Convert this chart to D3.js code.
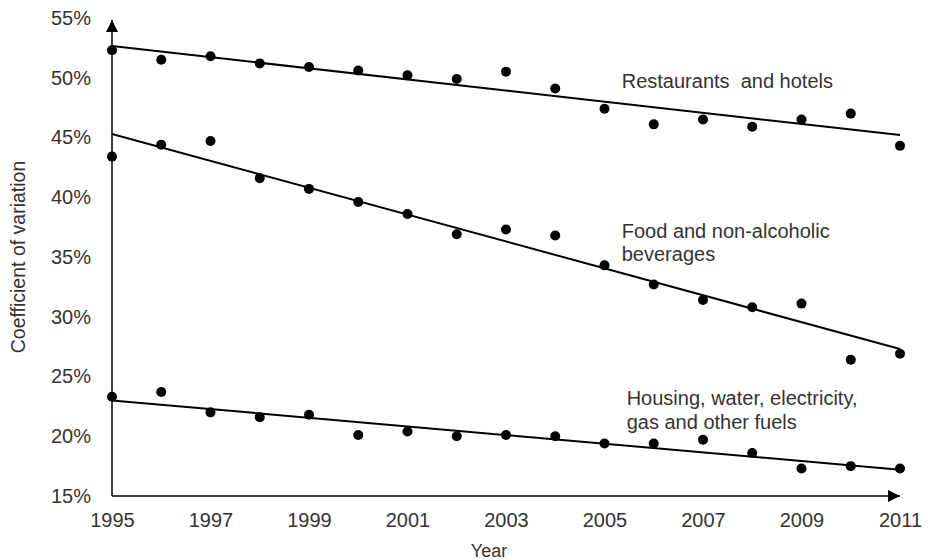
<!DOCTYPE html>
<html>
<head>
<meta charset="utf-8">
<script src="https://cdn.jsdelivr.net/npm/d3@7"></script>
<style>
  body { margin: 0; background: #fff; }
  svg { font-family: "Liberation Sans", Arial, sans-serif; }
</style>
</head>
<body>
<svg id="chart" width="930" height="560"></svg>
<script>
// Years and coefficient of variation (%) per category
const years = [1995, 1996, 1997, 1998, 1999, 2000, 2001, 2002, 2003,
               2004, 2005, 2006, 2007, 2008, 2009, 2010, 2011];
const restaurants = [52.3, 51.5, 51.8, 51.2, 50.9, 50.6, 50.2, 49.9, 50.5,
                     49.1, 47.4, 46.1, 46.5, 45.9, 46.5, 47.0, 44.3];
const food = [43.4, 44.4, 44.7, 41.6, 40.7, 39.6, 38.6, 36.9, 37.3,
              36.8, 34.3, 32.7, 31.4, 30.8, 31.1, 26.4, 26.9];
const housing = [23.3, 23.7, 22.0, 21.6, 21.8, 20.1, 20.4, 20.0, 20.1,
                 20.0, 19.4, 19.4, 19.7, 18.6, 17.3, 17.5, 17.3];

// Linear trend lines: value at first and last year
const trendYears = [1995, 2011];
const restaurantsTrend = [52.65, 45.2];
const foodTrend = [45.3, 27.3];
const housingTrend = [23.0, 17.2];

const yTicks = [15, 20, 25, 30, 35, 40, 45, 50, 55];
const xTicks = [1995, 1997, 1999, 2001, 2003, 2005, 2007, 2009, 2011];

const series = [
  { values: restaurants, trend: restaurantsTrend, label: ['Restaurants  and hotels'] },
  { values: food, trend: foodTrend, label: ['Food and non-alcoholic', 'beverages'] },
  { values: housing, trend: housingTrend, label: ['Housing, water, electricity,', 'gas and other fuels'] }
];
// label anchors (year, value) for the first text line baseline
const labelPos = [[2005.35, 49.15], [2005.35, 36.6], [2005.45, 22.6]];

const TEXT = '#333';
const INK = '#000';

const svg = d3.select('#chart');
const x = d3.scaleLinear().domain([1995, 2011]).range([112, 900]);
const y = d3.scaleLinear().domain([15, 55]).range([496, 18]);

// arrow heads
const defs = svg.append('defs');
defs.append('marker')
  .attr('id', 'arrow')
  .attr('viewBox', '0 0 12 12')
  .attr('refX', 12).attr('refY', 6)
  .attr('markerWidth', 12).attr('markerHeight', 12)
  .attr('markerUnits', 'userSpaceOnUse')
  .attr('orient', 'auto')
  .append('path')
  .attr('d', 'M0,0 L12,6 L0,12 Z')
  .attr('fill', INK);

// axes
const yAxis = svg.append('g')
  .attr('transform', `translate(${x(1995)},0)`)
  .call(d3.axisLeft(y).tickValues(yTicks).tickSize(0).tickPadding(21).tickFormat(d => d + '%'));
const xAxis = svg.append('g')
  .attr('transform', `translate(0,${y(15)})`)
  .call(d3.axisBottom(x).tickValues(xTicks).tickSize(0).tickPadding(17).tickFormat(d3.format('d')));
[yAxis, xAxis].forEach(a => {
  a.select('.domain').remove();
  a.selectAll('text').attr('fill', TEXT).style('font-size', '20px');
});

svg.append('line')
  .attr('x1', x(1995)).attr('y1', y(15))
  .attr('x2', x(1995)).attr('y2', 20)
  .attr('stroke', INK).attr('stroke-width', 1.5)
  .attr('marker-end', 'url(#arrow)');
svg.append('line')
  .attr('x1', x(1995)).attr('y1', y(15))
  .attr('x2', 900).attr('y2', y(15))
  .attr('stroke', INK).attr('stroke-width', 1.5)
  .attr('marker-end', 'url(#arrow)');

// axis titles
svg.append('text')
  .attr('transform', 'translate(25,257) rotate(-90)')
  .attr('text-anchor', 'middle')
  .attr('fill', TEXT)
  .style('font-size', '19.5px')
  .text('Coefficient of variation');
svg.append('text')
  .attr('x', 489).attr('y', 557)
  .attr('text-anchor', 'middle')
  .attr('fill', TEXT)
  .style('font-size', '18px')
  .text('Year');

// trend lines, dots, labels
const line = d3.line().x(d => x(d[0])).y(d => y(d[1]));
series.forEach((s, i) => {
  svg.append('path')
    .attr('d', line(trendYears.map((yr, j) => [yr, s.trend[j]])))
    .attr('fill', 'none')
    .attr('stroke', INK)
    .attr('stroke-width', 2);

  svg.append('g').selectAll('circle')
    .data(years.map((yr, j) => [yr, s.values[j]]))
    .join('circle')
    .attr('cx', d => x(d[0]))
    .attr('cy', d => y(d[1]))
    .attr('r', 5)
    .attr('fill', INK);

  const t = svg.append('text')
    .attr('x', x(labelPos[i][0]))
    .attr('y', y(labelPos[i][1]))
    .attr('fill', TEXT)
    .style('font-size', '20px')
    .style('white-space', 'pre');
  s.label.forEach((ln, k) => {
    t.append('tspan')
      .attr('x', x(labelPos[i][0]))
      .attr('dy', k === 0 ? 0 : 23.5)
      .text(ln);
  });
});
</script>
</body>
</html>
